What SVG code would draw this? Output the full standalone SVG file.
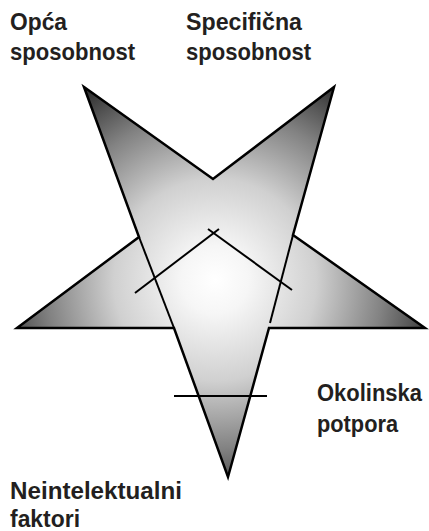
<svg xmlns="http://www.w3.org/2000/svg" width="429" height="531" viewBox="0 0 429 531">
<style>
.lbl{font-family:"Liberation Sans",Arial,sans-serif;font-weight:bold;font-size:24px;fill:#231f20}
.edge{fill:url(#g);stroke:#000;stroke-width:2.5;stroke-linejoin:miter}
.ln{fill:none;stroke:#000;stroke-width:2}
</style>
<defs>
<radialGradient id="g" gradientUnits="userSpaceOnUse" cx="215" cy="280" r="225">
<stop offset="0" stop-color="#ffffff"/>
<stop offset="0.15" stop-color="#f6f6f6"/>
<stop offset="0.45" stop-color="#d0d0d0"/>
<stop offset="0.75" stop-color="#828282"/>
<stop offset="1" stop-color="#333333"/>
</radialGradient>
</defs>
<g id="star">
<path class="edge" d="M84,87 L213,179 L334,87 L293,235 L425,328 L269,328 L228,477 L174,328 L17,328 L139,237 Z"/>
</g>
<g id="connectors">
<line class="ln" x1="139" y1="237" x2="174" y2="328"/>
<line class="ln" x1="293" y1="235" x2="270" y2="323"/>
<line class="ln" x1="135" y1="293" x2="219" y2="229"/>
<line class="ln" x1="208" y1="229" x2="292" y2="290"/>
<line class="ln" x1="174" y1="396" x2="267" y2="396"/>
</g>
<g id="opca">
<text class="lbl" x="10" y="29.5" textLength="57" lengthAdjust="spacingAndGlyphs">Opća</text>
<text class="lbl" x="10" y="60" textLength="125" lengthAdjust="spacingAndGlyphs">sposobnost</text>
</g>
<g id="specificna">
<text class="lbl" x="186" y="29.5" textLength="116" lengthAdjust="spacingAndGlyphs">Specifična</text>
<text class="lbl" x="186" y="60" textLength="125" lengthAdjust="spacingAndGlyphs">sposobnost</text>
</g>
<g id="okolinska">
<text class="lbl" x="317" y="401" style="font-size:23px" textLength="105" lengthAdjust="spacingAndGlyphs">Okolinska</text>
<text class="lbl" x="317" y="432" textLength="81" lengthAdjust="spacingAndGlyphs">potpora</text>
</g>
<g id="neintelektualni">
<text class="lbl" x="10" y="499" textLength="172" lengthAdjust="spacingAndGlyphs">Neintelektualni</text>
<text class="lbl" x="10" y="527" textLength="70" lengthAdjust="spacingAndGlyphs">faktori</text>
</g>
</svg>
